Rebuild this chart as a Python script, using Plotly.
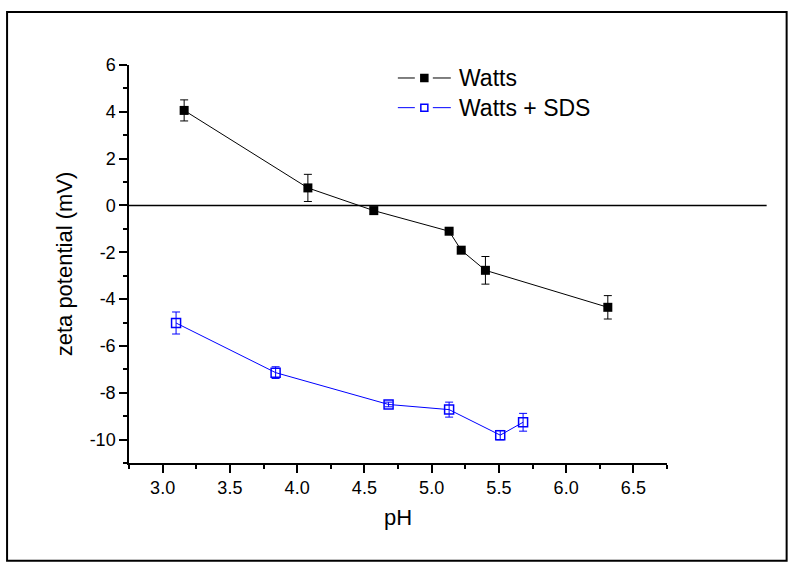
import plotly.graph_objects as go

# Watts
watts_ph = [3.16, 4.08, 4.57, 5.13, 5.22, 5.40, 6.31]
watts_zeta = [4.06, 0.75, -0.22, -1.10, -1.91, -2.77, -4.35]
watts_err = [0.45, 0.58, 0.15, 0.05, 0.05, 0.59, 0.50]

# Watts + SDS
sds_ph = [3.10, 3.84, 4.68, 5.13, 5.51, 5.68]
sds_zeta = [-5.02, -7.14, -8.50, -8.72, -9.81, -9.26]
sds_err = [0.47, 0.25, 0.10, 0.32, 0.20, 0.38]

y_ticks = [-10, -8, -6, -4, -2, 0, 2, 4, 6]
y_ticktext = ["-10", "-8", "-6", "-4", "-2", "0", "2", "4", "6"]
x_ticks = [3.0, 3.5, 4.0, 4.5, 5.0, 5.5, 6.0, 6.5]
x_ticktext = ["3.0", "3.5", "4.0", "4.5", "5.0", "5.5", "6.0", "6.5"]

FONT = "Arial, Liberation Sans, sans-serif"

# plot area pixel geometry
L, R, T, B = 129, 667.3, 65, 463.3
W, H = R - L, B - T


def px(x):
    return (x - L) / W


def py(y):
    return (B - y) / H


fig = go.Figure()
fig.add_trace(go.Scatter(
    x=watts_ph, y=watts_zeta, name="Watts", mode="lines+markers",
    line=dict(color="black", width=1),
    marker=dict(symbol="square", size=9, color="black"),
    error_y=dict(type="data", array=watts_err, visible=True, color="black", thickness=1, width=4),
    showlegend=False,
))
fig.add_trace(go.Scatter(
    x=sds_ph, y=sds_zeta, name="Watts + SDS", mode="lines+markers",
    line=dict(color="#0000ff", width=1),
    marker=dict(symbol="square-open", size=9, color="#0000ff", line=dict(width=1.5)),
    error_y=dict(type="data", array=sds_err, visible=True, color="#0000ff", thickness=1, width=4),
    showlegend=False,
))

# zero line extending beyond the axis
fig.add_shape(type="line", xref="x domain", yref="y", x0=0, x1=(767 - L) / W, y0=0, y1=0,
              line=dict(color="black", width=1.5))
# outer frame
fig.add_shape(type="rect", xref="paper", yref="paper",
              x0=px(7), x1=px(787), y0=py(561), y1=py(12),
              line=dict(color="black", width=2), fillcolor="rgba(0,0,0,0)", layer="below")

# custom legend
legend_items = [("Watts", "black", True, 78), ("Watts + SDS", "#0000ff", False, 107.7)]
for name, col, filled, yy in legend_items:
    for a, b in [(398, 415), (433, 451)]:
        fig.add_shape(type="line", xref="paper", yref="paper", x0=px(a), x1=px(b),
                      y0=py(yy), y1=py(yy), line=dict(color=col, width=1))
    fig.add_shape(type="rect", xref="paper", yref="paper",
                  x0=px(421), x1=px(428), y0=py(yy + 3.5), y1=py(yy - 3.5),
                  line=dict(color=col, width=1.5),
                  fillcolor=col if filled else "white")
    fig.add_annotation(xref="paper", yref="paper", x=px(457), y=py(yy), text=name,
                       showarrow=False, xanchor="left", yanchor="middle",
                       font=dict(size=23, family=FONT, color="black"))

fig.update_layout(
    width=795, height=568,
    margin=dict(l=L, r=795 - R, t=T, b=568 - B),
    paper_bgcolor="white", plot_bgcolor="white",
    font=dict(family=FONT, color="black"),
    showlegend=False,
)
fig.update_xaxes(
    range=[2.75, 6.75], tickvals=x_ticks, ticktext=x_ticktext,
    showline=True, linecolor="black", linewidth=1.5, mirror=False,
    ticks="outside", ticklen=8, tickwidth=1.5, tickcolor="black",
    minor=dict(dtick=0.25, tick0=2.75, ticks="outside", ticklen=4, tickwidth=1.5, tickcolor="black"),
    showgrid=False, zeroline=False,
    tickfont=dict(size=18), title=dict(text="pH", font=dict(size=22), standoff=12),
)
fig.update_yaxes(
    range=[-11, 6], tickvals=y_ticks, ticktext=y_ticktext,
    showline=True, linecolor="black", linewidth=1.5, mirror=False,
    ticks="outside", ticklen=8, tickwidth=1.5, tickcolor="black",
    minor=dict(dtick=1, tick0=-11, ticks="outside", ticklen=4, tickwidth=1.5, tickcolor="black"),
    showgrid=False, zeroline=False,
    tickfont=dict(size=18), title=dict(text="zeta potential (mV)", font=dict(size=22), standoff=11),
)

fig.write_html("out.html")
